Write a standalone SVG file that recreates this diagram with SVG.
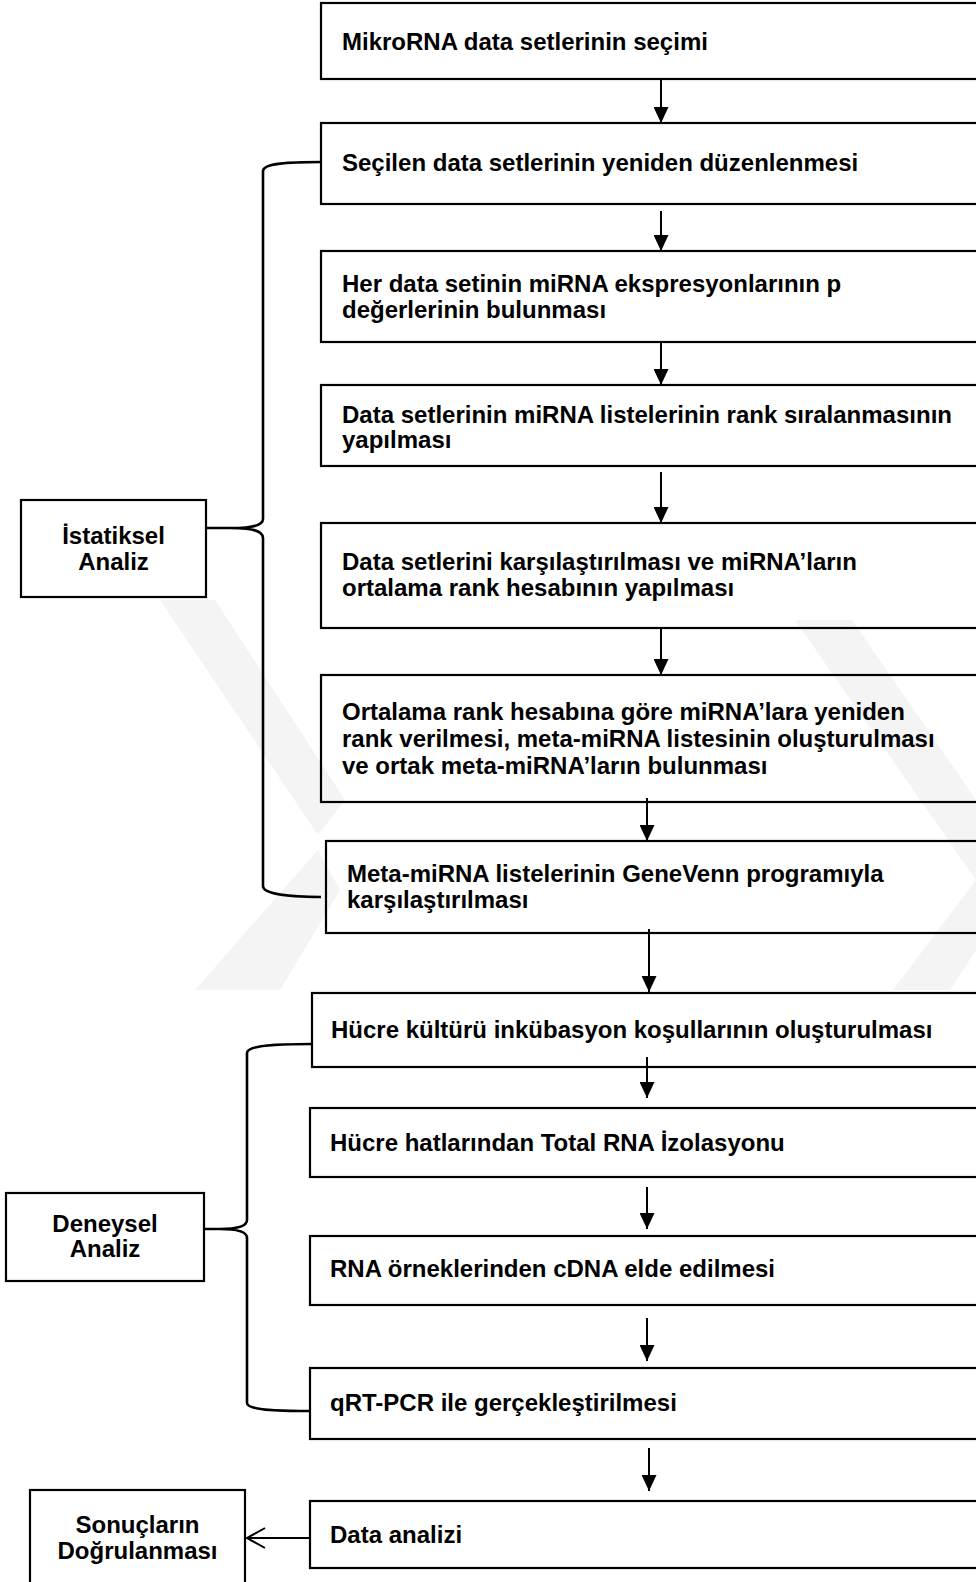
<svg xmlns="http://www.w3.org/2000/svg" width="976" height="1582" viewBox="0 0 976 1582">
<style>
.box{fill:none;stroke:#000;stroke-width:2.2}
.t{font-family:"Liberation Sans",Arial,sans-serif;font-weight:bold;font-size:24px;fill:#000}
.c{text-anchor:middle}
.ln{stroke:#000;stroke-width:2;fill:none}
.br{stroke:#000;stroke-width:2.6;fill:none}
.wm{fill:#f4f4f4}
</style>
<defs>
<marker id="ah" markerUnits="userSpaceOnUse" markerWidth="16" markerHeight="15" refX="16" refY="7.5" orient="auto">
<path d="M0,0 L16,7.5 L0,15 z" fill="#000"/>
</marker>
</defs>
<rect x="0" y="0" width="976" height="1582" fill="#fff"/>
<g id="watermark">
<polygon class="wm" points="160,600 215,600 345,800 318,835"/>
<polygon class="wm" points="195,990 280,990 340,890 318,850"/>
<polygon class="wm" points="795,620 852,620 976,800 976,880"/>
<polygon class="wm" points="893,990 950,990 976,950 976,880"/>
</g>
<g id="n1"><rect class="box" x="321" y="3" width="680" height="76"/><text class="t" x="342" y="50">MikroRNA data setlerinin seçimi</text></g>
<g id="n2"><rect class="box" x="321" y="123" width="680" height="81"/><text class="t" x="342" y="171">Seçilen data setlerinin yeniden düzenlenmesi</text></g>
<g id="n3"><rect class="box" x="321" y="251" width="680" height="91"/><text class="t" x="342" y="292">Her data setinin miRNA ekspresyonlarının p</text><text class="t" x="342" y="318">değerlerinin bulunması</text></g>
<g id="n4"><rect class="box" x="321" y="385" width="680" height="81"/><text class="t" x="342" y="423">Data setlerinin miRNA listelerinin rank sıralanmasının</text><text class="t" x="342" y="448">yapılması</text></g>
<g id="n5"><rect class="box" x="321" y="523" width="680" height="105"/><text class="t" x="342" y="570">Data setlerini karşılaştırılması ve miRNA’ların</text><text class="t" x="342" y="596">ortalama rank hesabının yapılması</text></g>
<g id="n6"><rect class="box" x="321" y="675" width="680" height="127"/><text class="t" x="342" y="720">Ortalama rank hesabına göre miRNA’lara yeniden</text><text class="t" x="342" y="747">rank verilmesi, meta-miRNA listesinin oluşturulması</text><text class="t" x="342" y="774">ve ortak meta-miRNA’ların bulunması</text></g>
<g id="n7"><rect class="box" x="326" y="841" width="680" height="92"/><text class="t" x="347" y="882">Meta-miRNA listelerinin GeneVenn programıyla</text><text class="t" x="347" y="908">karşılaştırılması</text></g>
<g id="n8"><rect class="box" x="312" y="993" width="680" height="74"/><text class="t" x="331" y="1038">Hücre kültürü inkübasyon koşullarının oluşturulması</text></g>
<g id="n9"><rect class="box" x="310" y="1108" width="680" height="69"/><text class="t" x="330" y="1151">Hücre hatlarından Total RNA İzolasyonu</text></g>
<g id="n10"><rect class="box" x="310" y="1236" width="680" height="69"/><text class="t" x="330" y="1277">RNA örneklerinden cDNA elde edilmesi</text></g>
<g id="n11"><rect class="box" x="310" y="1368" width="680" height="71"/><text class="t" x="330" y="1411">qRT-PCR ile gerçekleştirilmesi</text></g>
<g id="n12"><rect class="box" x="310" y="1501" width="680" height="67"/><text class="t" x="330" y="1543">Data analizi</text></g>
<g id="istatiksel"><rect class="box" x="21" y="500" width="185" height="97"/><text class="t c" x="113.5" y="544">İstatiksel</text><text class="t c" x="113.5" y="570">Analiz</text></g>
<g id="deneysel"><rect class="box" x="6" y="1193" width="198" height="88"/><text class="t c" x="105" y="1232">Deneysel</text><text class="t c" x="105" y="1257">Analiz</text></g>
<g id="sonuclar"><rect class="box" x="30" y="1490" width="215" height="110"/><text class="t c" x="137.5" y="1533">Sonuçların</text><text class="t c" x="137.5" y="1559">Doğrulanması</text></g>
<g id="connectors">
<line class="ln" x1="661" y1="80" x2="661" y2="123" marker-end="url(#ah)"/>
<line class="ln" x1="661" y1="211" x2="661" y2="251" marker-end="url(#ah)"/>
<line class="ln" x1="661" y1="343" x2="661" y2="385" marker-end="url(#ah)"/>
<line class="ln" x1="661" y1="472" x2="661" y2="523" marker-end="url(#ah)"/>
<line class="ln" x1="661" y1="628" x2="661" y2="675" marker-end="url(#ah)"/>
<line class="ln" x1="647" y1="798" x2="647" y2="841" marker-end="url(#ah)"/>
<line class="ln" x1="649" y1="929" x2="649" y2="992" marker-end="url(#ah)"/>
<line class="ln" x1="647" y1="1057" x2="647" y2="1098" marker-end="url(#ah)"/>
<line class="ln" x1="647" y1="1187" x2="647" y2="1229" marker-end="url(#ah)"/>
<line class="ln" x1="647" y1="1318" x2="647" y2="1361" marker-end="url(#ah)"/>
<line class="ln" x1="649" y1="1448" x2="649" y2="1491" marker-end="url(#ah)"/>
<line class="ln" x1="310" y1="1538" x2="247" y2="1538"/>
<polyline class="ln" points="265,1528 247,1538 265,1548"/>
<path class="br" d="M321 162 C290 162 263 163 263 171 L263 519 C263 526 250 528 230 528 L206 528 M206 528 L230 528 C250 528 263 530 263 538 L263 886 C263 894 290 897 321 897"/>
<path class="br" d="M311 1044 C280 1044 247 1045 247 1053 L247 1220 C247 1227 235 1229 220 1229 L204 1229 M204 1229 L220 1229 C235 1229 247 1231 247 1238 L247 1403 C247 1410 275 1411 311 1411"/>
</g>
</svg>
